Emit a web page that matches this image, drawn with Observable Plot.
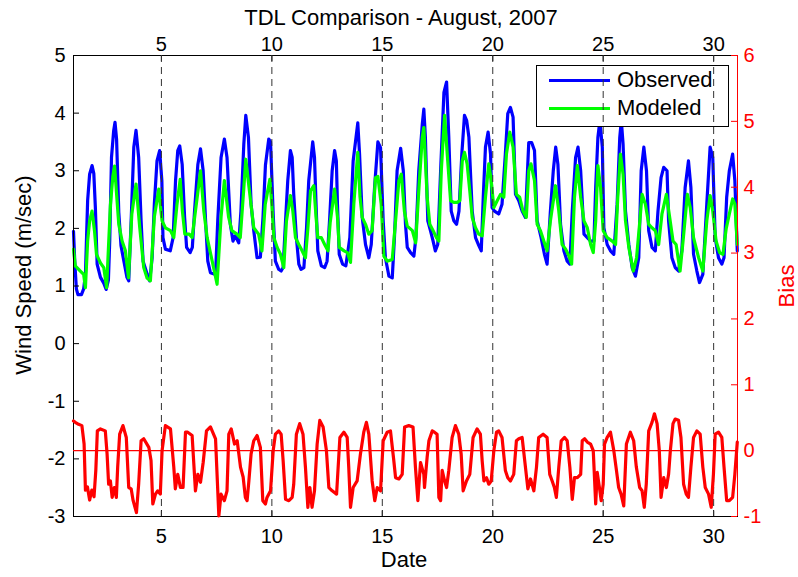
<!DOCTYPE html>
<html>
<head>
<meta charset="utf-8">
<script src="https://cdn.jsdelivr.net/npm/d3@7"></script>
<script src="https://cdn.jsdelivr.net/npm/@observablehq/plot@0.6"></script>
<style>
  html, body { margin: 0; padding: 0; background: #fff; }
  #fig { position: relative; width: 798px; height: 577px; overflow: hidden; font-family: "Liberation Sans", Arial, sans-serif; }
  #fig .layer { position: absolute; left: 0; top: 0; }
  .lbl { position: absolute; white-space: nowrap; line-height: 1; color: #000; }
</style>
</head>
<body>
<div id="fig"></div>
<script>
// ---------- data ----------
const title = "TDL Comparison - August, 2007";
const xLabel = "Date";
const yLabel = "Wind Speed (m/sec)";
const y2Label = "Bias";
const seriesNames = ["Observed", "Modeled"];

const dateTicks = [5, 10, 15, 20, 25, 30];
const speedTicks = [-3, -2, -1, 0, 1, 2, 3, 4, 5];
const biasTicks = [-1, 0, 1, 2, 3, 4, 5, 6];
const dateDomain = [1.02, 31.08];
const speedDomain = [-3, 5];
const biasDomain = [-1, 6];

// [date, wind speed m/s]
const observed = [
[1.02,1.95],[1.08,1.4],[1.15,0.95],[1.22,0.85],[1.38,0.85],[1.48,0.95],[1.56,1.2],[1.66,2.48],[1.75,2.94],[1.86,3.09],[1.94,2.95],[2.01,2.36],[2.09,1.38],[2.24,1.15],[2.39,1.05],[2.5,0.94],[2.6,1.1],[2.66,1.78],[2.74,3.23],[2.84,3.7],[2.9,3.84],[2.97,3.55],[3.07,2.28],[3.17,1.7],[3.29,1.45],[3.44,1.15],[3.52,1.09],[3.63,2.13],[3.75,3.41],[3.85,3.7],[3.97,3.23],[4.08,2.13],[4.17,1.43],[4.36,1.2],[4.47,1.09],[4.58,1.49],[4.68,2.42],[4.8,3.17],[4.92,3.35],[5.02,2.83],[5.07,1.84],[5.18,1.64],[5.4,1.61],[5.53,1.84],[5.64,2.83],[5.74,3.35],[5.83,3.43],[5.94,3.11],[6.05,2.19],[6.14,1.67],[6.3,1.58],[6.4,1.67],[6.5,2.3],[6.65,3.11],[6.77,3.38],[6.89,3.0],[7.0,2.13],[7.1,1.43],[7.22,1.23],[7.45,1.2],[7.55,2.13],[7.7,3.23],[7.85,3.55],[7.97,3.23],[8.12,2.07],[8.24,1.78],[8.34,1.87],[8.5,1.75],[8.6,2.3],[8.73,3.46],[8.82,3.96],[8.94,3.58],[9.06,2.42],[9.18,1.96],[9.33,1.49],[9.48,1.5],[9.6,2.2],[9.71,3.1],[9.86,3.55],[9.94,3.5],[10.06,2.25],[10.16,1.43],[10.31,1.29],[10.42,1.26],[10.51,1.32],[10.62,2.13],[10.72,2.83],[10.84,3.35],[10.92,3.23],[10.99,2.59],[11.11,1.84],[11.22,1.38],[11.32,1.29],[11.45,1.32],[11.57,2.01],[11.67,2.83],[11.85,3.5],[11.93,3.23],[12.0,2.42],[12.08,1.61],[12.24,1.35],[12.39,1.32],[12.5,1.43],[12.62,2.19],[12.73,3.0],[12.84,3.35],[12.92,3.17],[12.97,2.42],[13.05,1.55],[13.2,1.38],[13.35,1.35],[13.53,1.84],[13.68,3.17],[13.89,3.83],[13.97,3.29],[14.09,2.19],[14.24,1.72],[14.39,1.49],[14.5,1.72],[14.65,2.71],[14.8,3.5],[14.92,3.4],[15.04,2.13],[15.14,1.49],[15.3,1.17],[15.45,1.14],[15.55,1.84],[15.67,3.0],[15.83,3.39],[15.95,3.0],[16.05,2.07],[16.13,1.67],[16.28,1.58],[16.43,1.52],[16.52,1.84],[16.65,3.0],[16.81,3.81],[16.88,4.07],[16.95,3.58],[17.06,2.13],[17.18,1.96],[17.3,1.78],[17.4,1.61],[17.51,1.72],[17.64,3.0],[17.79,4.36],[17.91,4.54],[18.01,3.58],[18.12,2.3],[18.24,2.13],[18.36,2.07],[18.47,2.3],[18.6,3.29],[18.72,3.96],[18.82,3.87],[18.92,3.58],[19.07,2.3],[19.22,1.84],[19.37,1.7],[19.48,1.61],[19.57,2.54],[19.67,3.41],[19.79,3.67],[19.9,3.29],[19.97,2.36],[20.08,2.3],[20.27,2.25],[20.42,2.42],[20.57,3.29],[20.68,3.99],[20.8,4.1],[20.92,3.93],[21.03,2.59],[21.18,2.48],[21.33,2.3],[21.48,2.19],[21.63,3.49],[21.76,3.49],[21.89,3.35],[22.01,2.13],[22.19,1.84],[22.34,1.55],[22.46,1.38],[22.61,2.3],[22.74,3.0],[22.85,3.41],[22.95,3.11],[23.07,2.07],[23.22,1.61],[23.37,1.43],[23.49,1.38],[23.6,2.3],[23.75,3.23],[23.86,3.41],[23.98,3.0],[24.13,1.9],[24.28,1.84],[24.43,1.78],[24.58,1.78],[24.66,2.71],[24.76,3.58],[24.85,3.87],[24.96,3.41],[25.03,2.01],[25.18,1.72],[25.33,1.61],[25.48,1.55],[25.63,2.42],[25.75,3.58],[25.82,3.87],[25.9,3.46],[26.01,2.3],[26.16,1.72],[26.31,1.32],[26.46,1.17],[26.61,1.49],[26.72,3.0],[26.84,3.41],[26.96,3.0],[27.06,1.96],[27.21,1.67],[27.36,1.61],[27.48,2.3],[27.62,2.88],[27.74,3.06],[27.89,3.0],[27.96,2.13],[28.11,1.49],[28.26,1.32],[28.41,1.26],[28.56,1.61],[28.71,2.71],[28.86,3.17],[28.97,2.71],[29.09,1.55],[29.24,1.26],[29.36,1.06],[29.51,1.2],[29.69,2.42],[29.84,3.41],[29.96,3.23],[30.07,1.84],[30.22,1.49],[30.37,1.38],[30.47,1.49],[30.59,2.54],[30.71,3.0],[30.86,3.29],[30.96,2.83],[31.07,1.61]
];

// [date, wind speed m/s]
const modeled = [
[1.02,1.64],[1.1,1.35],[1.33,1.26],[1.48,1.2],[1.56,0.97],[1.66,1.78],[1.75,2.13],[1.86,2.3],[1.97,1.96],[2.06,1.55],[2.24,1.4],[2.39,1.32],[2.52,0.97],[2.69,2.4],[2.8,2.9],[2.88,3.08],[2.97,2.6],[3.07,2.07],[3.22,1.78],[3.37,1.61],[3.51,1.14],[3.66,2.25],[3.85,2.77],[4.02,2.01],[4.2,1.32],[4.35,1.14],[4.5,1.09],[4.68,2.2],[4.88,2.68],[4.98,2.3],[5.03,2.13],[5.18,2.01],[5.41,1.96],[5.56,1.84],[5.7,2.4],[5.85,2.85],[5.95,2.3],[6.06,1.9],[6.26,1.9],[6.39,1.84],[6.54,2.3],[6.77,3.0],[6.92,2.3],[7.07,1.84],[7.3,1.43],[7.52,1.03],[7.7,2.2],[7.85,2.83],[8.04,2.2],[8.19,1.96],[8.42,1.9],[8.57,1.84],[8.73,2.7],[8.82,3.2],[9.03,2.5],[9.18,2.01],[9.4,1.9],[9.55,1.61],[9.7,2.42],[9.91,2.85],[10.0,2.4],[10.09,1.84],[10.24,1.67],[10.39,1.55],[10.54,1.32],[10.66,2.13],[10.84,2.57],[10.95,2.3],[11.07,1.84],[11.22,1.72],[11.37,1.61],[11.52,1.49],[11.63,2.0],[11.75,2.65],[11.9,2.74],[12.0,2.2],[12.08,1.84],[12.24,1.84],[12.39,1.72],[12.54,1.61],[12.64,2.1],[12.84,2.68],[12.97,2.2],[13.05,1.67],[13.27,1.61],[13.42,1.58],[13.56,1.41],[13.71,2.42],[13.89,3.32],[13.99,2.55],[14.09,2.19],[14.24,2.07],[14.39,1.9],[14.54,1.96],[14.69,2.88],[14.8,2.9],[14.95,2.42],[15.07,1.52],[15.22,1.43],[15.45,1.46],[15.6,2.13],[15.75,2.83],[15.86,2.94],[16.0,2.3],[16.13,2.04],[16.36,1.96],[16.51,1.75],[16.66,2.71],[16.81,3.58],[16.88,3.75],[17.03,2.54],[17.15,2.07],[17.3,1.96],[17.45,1.84],[17.56,1.78],[17.67,3.0],[17.82,3.96],[17.94,3.29],[18.09,2.48],[18.24,2.45],[18.39,2.45],[18.51,2.48],[18.62,3.17],[18.72,3.32],[18.84,3.12],[18.96,2.65],[19.07,2.19],[19.22,2.01],[19.37,1.9],[19.52,1.87],[19.67,2.54],[19.82,3.12],[19.93,2.83],[20.05,2.36],[20.2,2.48],[20.35,2.59],[20.5,2.54],[20.62,3.29],[20.77,3.67],[20.92,3.41],[21.07,2.59],[21.22,2.54],[21.37,2.3],[21.52,2.19],[21.63,3.0],[21.73,3.12],[21.89,2.83],[22.01,2.07],[22.16,1.96],[22.31,1.78],[22.46,1.61],[22.61,2.13],[22.84,2.74],[22.99,2.3],[23.14,1.72],[23.3,1.64],[23.45,1.52],[23.57,1.38],[23.7,2.54],[23.83,3.09],[23.98,2.54],[24.13,2.13],[24.28,2.01],[24.43,1.72],[24.55,1.58],[24.66,2.13],[24.76,3.09],[24.88,2.71],[25.0,1.96],[25.18,1.84],[25.41,1.78],[25.56,1.72],[25.66,2.54],[25.78,3.29],[25.9,2.94],[26.01,2.13],[26.16,1.67],[26.36,1.26],[26.51,1.49],[26.66,2.13],[26.76,2.59],[26.91,2.42],[27.06,2.07],[27.21,2.01],[27.36,1.96],[27.51,1.72],[27.66,2.25],[27.86,2.59],[28.01,2.19],[28.16,1.78],[28.3,1.72],[28.48,1.26],[28.63,1.84],[28.81,2.59],[28.94,2.36],[29.09,1.84],[29.32,1.49],[29.51,1.26],[29.69,2.13],[29.84,2.57],[29.96,2.3],[30.11,1.78],[30.27,1.58],[30.42,1.55],[30.57,2.0],[30.71,2.25],[30.86,2.51],[30.96,2.42],[31.07,1.72]
];

// [date, bias]
const bias = [
[1.02,0.45],[1.1,0.43],[1.25,0.4],[1.4,0.38],[1.5,0.1],[1.56,-0.6],[1.65,-0.55],[1.75,-0.75],[1.85,-0.6],[1.95,-0.7],[2.03,-0.3],[2.1,0.3],[2.24,0.33],[2.46,0.3],[2.54,-0.05],[2.61,-0.51],[2.69,-0.46],[2.77,-0.71],[2.87,-0.56],[2.96,-0.71],[3.02,-0.25],[3.11,0.25],[3.26,0.38],[3.41,0.2],[3.52,-0.56],[3.63,-0.58],[3.72,-0.76],[3.87,-0.94],[3.97,-0.51],[4.08,0.15],[4.2,0.18],[4.43,0.05],[4.53,-0.15],[4.61,-0.81],[4.73,-0.66],[4.83,-0.61],[4.95,-0.66],[5.03,0.0],[5.18,0.38],[5.41,0.33],[5.56,-0.25],[5.63,-0.58],[5.74,-0.36],[5.86,-0.56],[5.98,-0.56],[6.09,0.28],[6.19,0.28],[6.39,0.23],[6.54,-0.61],[6.65,-0.36],[6.77,-0.48],[6.89,-0.18],[7.04,0.3],[7.22,0.36],[7.45,0.18],[7.6,-0.99],[7.7,-0.66],[7.85,-0.76],[7.97,-0.61],[8.05,0.25],[8.16,0.33],[8.31,0.1],[8.43,0.15],[8.58,-0.25],[8.7,-0.4],[8.8,-0.71],[8.88,-0.76],[8.96,-0.46],[9.06,-0.05],[9.18,0.15],[9.33,0.23],[9.48,0.05],[9.59,-0.76],[9.71,-0.81],[9.78,-0.71],[9.94,-0.61],[10.06,0.0],[10.16,0.25],[10.31,0.3],[10.42,0.25],[10.51,-0.15],[10.62,-0.74],[10.77,-0.76],[10.92,-0.71],[10.99,-0.51],[11.11,0.25],[11.26,0.41],[11.41,0.25],[11.52,-0.25],[11.63,-0.86],[11.72,-0.56],[11.82,-0.86],[11.93,-0.61],[12.05,0.1],[12.17,0.46],[12.32,0.36],[12.47,0.0],[12.58,-0.56],[12.73,-0.61],[12.93,-0.66],[13.08,0.2],[13.26,0.28],[13.41,0.2],[13.48,-0.25],[13.56,-0.86],[13.68,-0.56],[13.86,-0.46],[14.01,-0.05],[14.16,0.28],[14.28,0.43],[14.39,0.25],[14.54,-0.46],[14.66,-0.76],[14.77,-0.56],[14.92,-0.61],[15.04,0.15],[15.22,0.28],[15.37,0.3],[15.52,-0.15],[15.6,-0.41],[15.75,-0.43],[15.9,-0.36],[16.01,0.36],[16.2,0.38],[16.39,0.36],[16.5,-0.25],[16.61,-0.76],[16.73,-0.18],[16.88,-0.36],[16.91,-0.56],[17.03,-0.1],[17.11,0.15],[17.26,0.3],[17.36,0.28],[17.48,0.25],[17.56,-0.71],[17.64,-0.76],[17.71,-0.3],[17.82,-0.46],[17.91,-0.56],[18.01,-0.3],[18.16,0.2],[18.31,0.38],[18.46,0.25],[18.57,-0.05],[18.66,-0.61],[18.81,-0.46],[18.96,-0.36],[19.11,0.2],[19.29,0.33],[19.44,0.25],[19.52,-0.15],[19.6,-0.46],[19.72,-0.41],[19.82,-0.51],[19.93,-0.46],[20.05,0.0],[20.17,0.28],[20.27,0.3],[20.42,0.2],[20.57,-0.3],[20.68,-0.41],[20.8,-0.46],[20.95,-0.36],[21.07,0.15],[21.18,0.18],[21.33,0.2],[21.48,-0.25],[21.59,-0.58],[21.71,-0.43],[21.86,-0.61],[21.98,-0.25],[22.08,0.2],[22.28,0.25],[22.46,0.2],[22.58,-0.36],[22.69,-0.46],[22.79,-0.56],[22.88,-0.71],[22.99,-0.25],[23.1,0.15],[23.25,0.2],[23.37,0.15],[23.49,-0.25],[23.6,-0.74],[23.7,-0.41],[23.83,-0.41],[23.98,-0.36],[24.05,0.15],[24.16,0.18],[24.28,0.13],[24.43,0.1],[24.55,0.0],[24.66,-0.81],[24.73,-0.33],[24.85,-0.61],[24.91,-0.76],[25.0,-0.51],[25.06,0.1],[25.18,0.2],[25.33,0.28],[25.48,0.0],[25.6,-0.3],[25.7,-0.56],[25.81,-0.66],[25.93,-0.84],[26.05,0.1],[26.23,0.28],[26.38,0.15],[26.5,-0.25],[26.65,-0.56],[26.76,-0.61],[26.86,-0.86],[26.95,-0.51],[27.06,0.3],[27.21,0.43],[27.32,0.56],[27.44,0.41],[27.54,0.0],[27.62,-0.71],[27.74,-0.41],[27.86,-0.56],[27.96,-0.36],[28.04,0.0],[28.16,0.41],[28.26,0.48],[28.41,0.46],[28.52,0.2],[28.64,-0.51],[28.76,-0.66],[28.86,-0.71],[28.97,-0.25],[29.09,0.2],[29.24,0.3],[29.39,0.25],[29.51,-0.25],[29.62,-0.56],[29.77,-0.66],[29.89,-0.86],[29.99,-0.36],[30.07,0.25],[30.22,0.28],[30.37,0.2],[30.47,-0.25],[30.59,-0.76],[30.71,-0.76],[30.86,-0.71],[30.96,-0.36],[31.07,0.13]
];

// ---------- layout ----------
const W = 798, H = 577;
const mL = 73, mR = 61, mT = 55, mB = 61;
const pw = W - mL - mR, ph = H - mT - mB;
const FONT = '"Liberation Sans", Arial, Helvetica, sans-serif';
const BLUE = "#0000ff", GREEN = "#00ff00", RED = "#ff0000";
const LW = 3.2;
const fmt = d => String(d);

const fig = document.getElementById("fig");

const common = {
  width: W, height: H,
  marginLeft: mL, marginRight: mR, marginTop: mT, marginBottom: mB
};

// Layer 1: wind speed (left axis)
const p1 = Plot.plot({
  ...common,
  style: { fontFamily: FONT, fontSize: "20px", color: "#000", background: "#fff", overflow: "visible" },
  x: { domain: dateDomain },
  y: { domain: speedDomain },
  marks: [
    Plot.line(observed, { x: d => d[0], y: d => d[1], stroke: BLUE, strokeWidth: LW, strokeLinejoin: "round", strokeLinecap: "round" }),
    Plot.line(modeled, { x: d => d[0], y: d => d[1], stroke: GREEN, strokeWidth: LW, strokeLinejoin: "round", strokeLinecap: "round" }),
    Plot.ruleX(dateTicks, { x: d => d, stroke: "#000", insetTop: ph - 6 }),
    Plot.ruleX(dateTicks, { x: d => d, stroke: "#000", insetBottom: ph - 6 }),
    Plot.ruleY(speedTicks, { y: d => d, stroke: "#000", insetRight: pw - 6 }),
    Plot.frame({ stroke: "#000", strokeWidth: 1 }),
    Plot.axisX({ anchor: "bottom", ticks: dateTicks, tickSize: 0, tickPadding: 12, tickFormat: fmt, label: null }),
    Plot.axisX({ anchor: "top", ticks: dateTicks, tickSize: 0, tickPadding: 5, tickFormat: fmt, label: null }),
    Plot.axisY({ anchor: "left", ticks: speedTicks, tickSize: 0, tickPadding: 8, tickFormat: fmt, label: null })
  ]
});
p1.classList.add("layer");
p1.style.zIndex = 1;
fig.appendChild(p1);

// Legend (sits above layer 1, below layer 2 like the original)
const legend = document.createElement("div");
legend.style.cssText = "position:absolute;left:536px;top:65px;width:191px;height:60px;border:1px solid #000;background:#fff;z-index:2;";
[[seriesNames[0], BLUE, 14], [seriesNames[1], GREEN, 42]].forEach(([name, col, cy]) => {
  const ln = document.createElement("div");
  ln.style.cssText = `position:absolute;left:12px;top:${cy - 1}px;width:61px;height:2.5px;background:${col};`;
  legend.appendChild(ln);
  const tx = document.createElement("div");
  tx.className = "lbl";
  tx.textContent = name;
  tx.style.cssText += `left:80px;top:${cy}px;transform:translateY(-50%);font-size:22px;font-family:${FONT};`;
  legend.appendChild(tx);
});
fig.appendChild(legend);

// Layer 2: bias (right axis), dashed date lines
const p2 = Plot.plot({
  ...common,
  style: { fontFamily: FONT, fontSize: "20px", color: RED, background: "transparent", overflow: "visible" },
  x: { domain: dateDomain, axis: null },
  y: { domain: biasDomain },
  marks: [
    Plot.ruleX(dateTicks, { x: d => d, stroke: "#333", strokeWidth: 1, strokeDasharray: "7,5" }),
    Plot.ruleY([0], { y: d => d, stroke: RED, strokeWidth: 1.2 }),
    Plot.line(bias, { x: d => d[0], y: d => d[1], stroke: RED, strokeWidth: LW, strokeLinejoin: "round", strokeLinecap: "round" }),
    Plot.ruleX([dateDomain[1]], { x: d => d, stroke: RED, strokeWidth: 1 }),
    Plot.ruleY(biasTicks, { y: d => d, stroke: RED, insetLeft: pw - 6 }),
    Plot.axisY({ anchor: "right", ticks: biasTicks, tickSize: 0, tickPadding: 6, tickFormat: fmt, label: null, color: RED, fill: RED })
  ]
});
p2.classList.add("layer");
p2.style.zIndex = 3;
p2.style.pointerEvents = "none";
fig.appendChild(p2);

// Text labels
function addLabel(text, cx, cy, size, color, rotate) {
  const el = document.createElement("div");
  el.className = "lbl";
  el.textContent = text;
  el.style.left = cx + "px";
  el.style.top = cy + "px";
  el.style.fontSize = size + "px";
  el.style.color = color;
  el.style.fontFamily = FONT;
  el.style.zIndex = 4;
  el.style.transform = "translate(-50%,-50%)" + (rotate ? " rotate(-90deg)" : "");
  fig.appendChild(el);
}
addLabel(title, 401, 18, 22, "#000", false);
addLabel(xLabel, 404, 560, 22, "#000", false);
addLabel(yLabel, 24, 275, 22, "#000", true);
addLabel(y2Label, 787, 286, 22, RED, true);
</script>
</body>
</html>
